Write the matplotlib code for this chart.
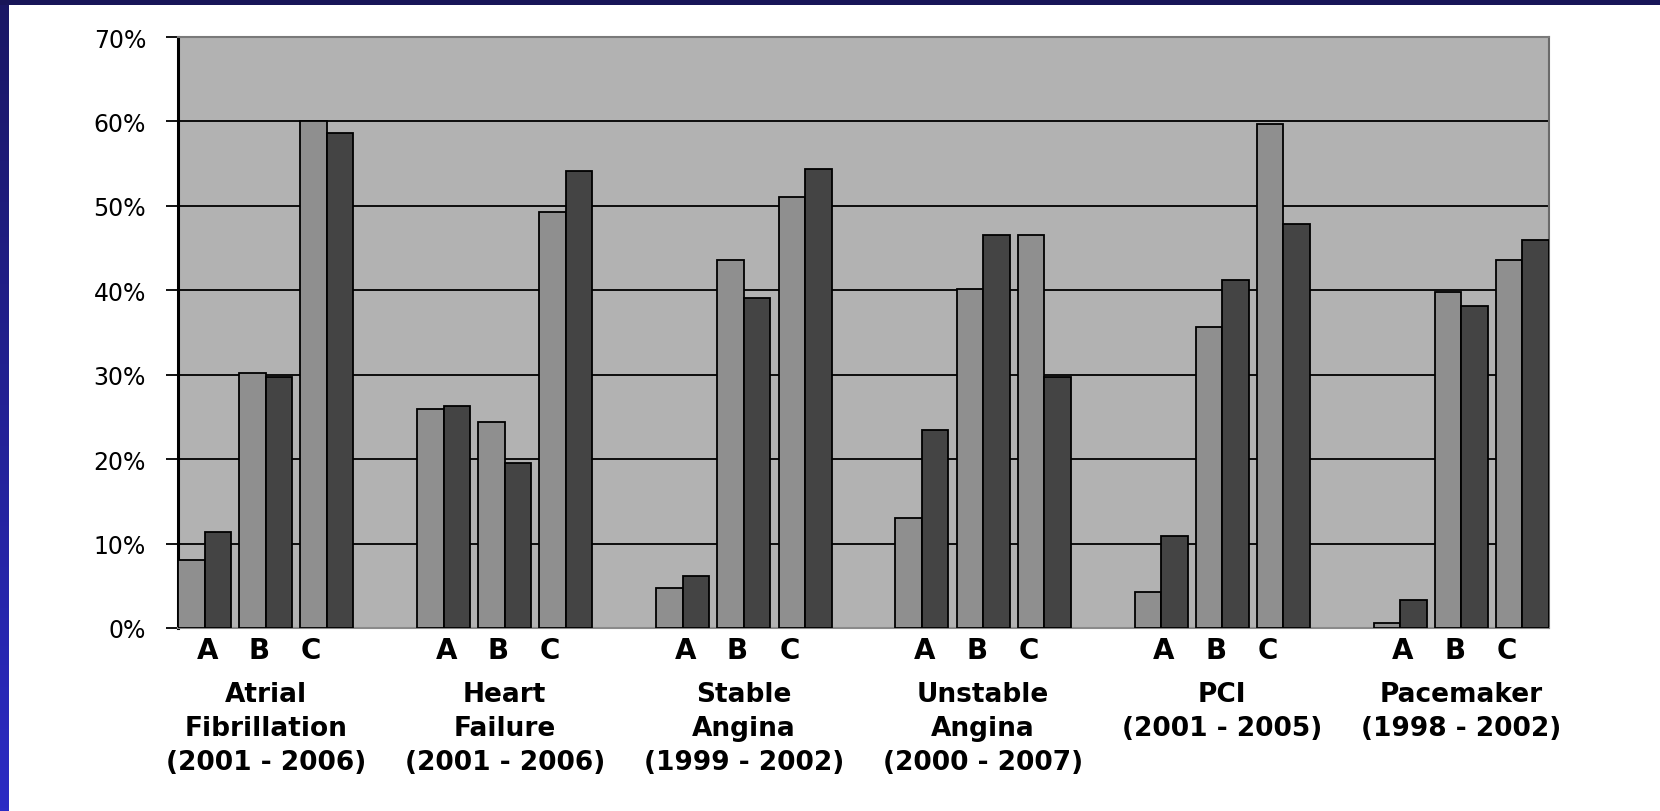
import numpy as np
import matplotlib
matplotlib.use("Agg")
import matplotlib.pyplot as plt
from matplotlib.ticker import FuncFormatter

# data (percent)
categories = ["Atrial\nFibrillation\n(2001 - 2006)",
              "Heart\nFailure\n(2001 - 2006)",
              "Stable\nAngina\n(1999 - 2002)",
              "Unstable\nAngina\n(2000 - 2007)",
              "PCI\n(2001 - 2005)",
              "Pacemaker\n(1998 - 2002)"]
subgroups = ["A", "B", "C"]
light_vals = [[8.1, 30.2, 60.0],
              [25.9, 24.4, 49.3],
              [4.7, 43.6, 51.1],
              [13.0, 40.2, 46.6],
              [4.3, 35.7, 59.7],
              [0.6, 39.8, 43.6]]
dark_vals = [[11.4, 29.7, 58.6],
             [26.3, 19.5, 54.1],
             [6.1, 39.1, 54.4],
             [23.4, 46.6, 29.7],
             [10.9, 41.2, 47.8],
             [3.3, 38.1, 46.0]]
yticks = [0, 10, 20, 30, 40, 50, 60, 70]

BAR_W = 0.111
PAIR_STEP = 0.2557
LABEL_STEP = 0.217

fig = plt.figure(figsize=(16.6, 8.12), dpi=100)
fig.patch.set_facecolor("white")

# navy slide frame (left gradient strip + top strip)
strip = fig.add_axes([0, 0, 8 / 1660, 1])
grad = np.linspace(0, 1, 256).reshape(-1, 1)
cmap = matplotlib.colors.LinearSegmentedColormap.from_list("nv", ["#2b2bc4", "#1a1764"])
strip.imshow(grad, aspect="auto", cmap=cmap, origin="lower")
strip.axis("off")
top = fig.add_axes([0, 1 - 6 / 812, 1, 6 / 812])
top.set_facecolor("#181558")
top.set_xticks([]); top.set_yticks([])
for s in top.spines.values():
    s.set_visible(False)

ax = fig.add_axes([178 / 1660, 1 - 629 / 812, 1371 / 1660, 591 / 812])
ax.set_facecolor("#b2b2b2")

n = len(categories)
x = np.arange(n)
for j in range(len(subgroups)):
    centers = x + (j - 1) * PAIR_STEP
    ax.bar(centers - BAR_W / 2, [v[j] for v in light_vals], width=BAR_W,
           color="#8f8f8f", edgecolor="black", linewidth=1.3, zorder=3)
    ax.bar(centers + BAR_W / 2, [v[j] for v in dark_vals], width=BAR_W,
           color="#444444", edgecolor="black", linewidth=1.3, zorder=3)

ax.set_xlim(-PAIR_STEP - BAR_W, n - 1 + PAIR_STEP + BAR_W)
ax.set_ylim(0, 70)
ax.set_yticks(yticks)
ax.yaxis.set_major_formatter(FuncFormatter(lambda v, p: f"{int(v)}%"))
ax.tick_params(axis="y", length=9, width=1.3, pad=14, labelsize=17, colors="black")
ax.yaxis.grid(True, color="black", linewidth=1.3, zorder=1)
ax.set_axisbelow(True)

tick_pos = [i - 0.027 + (k - 1) * LABEL_STEP for i in range(n) for k in range(3)]
ax.set_xticks(tick_pos)
ax.set_xticklabels(subgroups * n, fontsize=20, fontweight="bold")
ax.tick_params(axis="x", length=0, pad=6)

for i, name in enumerate(categories):
    ax.text(i, -0.09, name, transform=ax.get_xaxis_transform(), ha="center", va="top",
            fontsize=19, fontweight="bold", linespacing=1.4, multialignment="center")

ax.spines["left"].set_linewidth(2.2)
ax.spines["left"].set_color("black")
ax.spines["bottom"].set_color("#8a8a8a")
ax.spines["bottom"].set_linewidth(1.5)
ax.spines["top"].set_color("#7a7a7a")
ax.spines["top"].set_linewidth(1.5)
ax.spines["right"].set_color("#6a6a6a")
ax.spines["right"].set_linewidth(1.5)

fig.savefig("out.png", dpi=100)
